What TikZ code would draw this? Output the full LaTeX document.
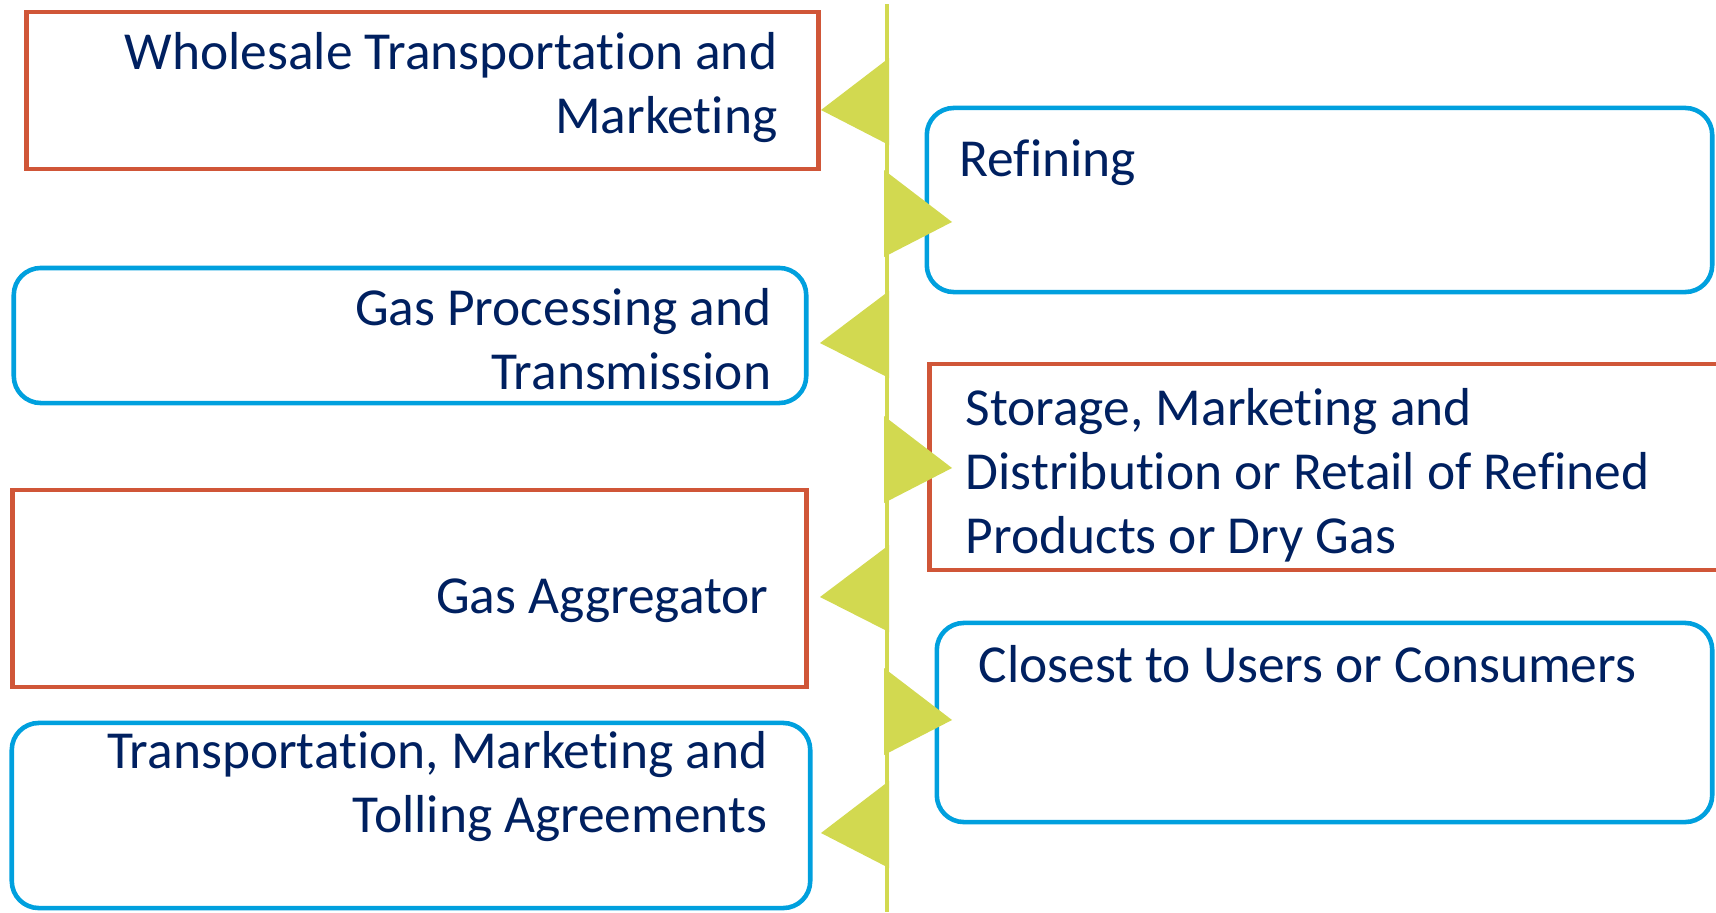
\documentclass[tikz,border=0pt]{standalone}
\usepackage{fontspec}
\setmainfont{Carlito}[Ligatures=NoCommon]
\usetikzlibrary{positioning}

\definecolor{navy}{RGB}{0,32,96}
\definecolor{brick}{RGB}{208,86,56}
\definecolor{sky}{RGB}{0,160,222}
\definecolor{lime}{RGB}{210,217,80}

\begin{document}
\begin{tikzpicture}[x=0.01cm, y=-0.01cm,
    redbox/.style={draw=brick, line width=1.3pt, inner sep=0pt},
    bluebox/.style={draw=sky, line width=1.3pt, inner sep=0pt, rounded corners=0.27cm},
    lbl/.style={text=navy, inner sep=0pt, font=\fontsize{15.2}{18.07}\selectfont},
    spine/.style={draw=lime, line width=1.4pt}]
    \useasboundingbox (0,0) rectangle (1716,912);
    \clip (0,0) rectangle (1716,912);
        % boxes
        \node[redbox, minimum width=7.91cm, minimum height=1.57cm] (wholesale) at (422.5,90.5) {};
        \node[bluebox, minimum width=7.85cm, minimum height=1.84cm] (refining) at (1319.5,200) {};
        \node[bluebox, minimum width=7.92cm, minimum height=1.35cm] (gasproc) at (410,335.5) {};
        \node[redbox, minimum width=8.10cm, minimum height=2.06cm] (storage) at (1335,467) {};
        \node[redbox, minimum width=7.93cm, minimum height=1.97cm] (aggregator) at (409.5,588.5) {};
        \node[bluebox, minimum width=7.75cm, minimum height=1.99cm] (closest) at (1324.5,722.5) {};
        \node[bluebox, minimum width=7.98cm, minimum height=1.85cm] (tolling) at (411,815.5) {};
        % texts (base = last line)
        \node[lbl, anchor=base east, align=right] (wholesaletxt) at (778,133) {Wholesale Transportation and\\Marketing};
        \node[lbl, anchor=base west, align=left] (refiningtxt) at (959,176) {Refining};
        \node[lbl, anchor=base east, align=right] (gasproctxt) at (772,389) {Gas Processing and\\Transmission};
        \node[lbl, anchor=base west, align=left] (storagetxt) at (965,553) {Storage, Marketing and\\Distribution or Retail of Refined\\Products or Dry Gas};
        \node[lbl, anchor=base east, align=right] (aggregatortxt) at (769,613) {Gas Aggregator};
        \node[lbl, anchor=base west, align=left] (closesttxt) at (978,682) {Closest to Users or Consumers};
        \node[lbl, anchor=base east, align=right] (tollingtxt) at (768,832) {Transportation, Marketing and\\Tolling Agreements};
        % spine and pointers
        \coordinate (top) at (887,4);
        \coordinate (bottom) at (887,912);
        \draw[spine] (top) -- (bottom);
        \foreach \tip/\ty/\bx in {821/110/889, 952/222/884, 820/343/889, 952/468/884,
                                  820/597/889, 952/720/884, 821/833/889}
            \fill[lime] (\bx,\ty-52) -- (\tip,\ty) -- (\bx,\ty+35) -- cycle;
    \end{tikzpicture}
\end{document}
